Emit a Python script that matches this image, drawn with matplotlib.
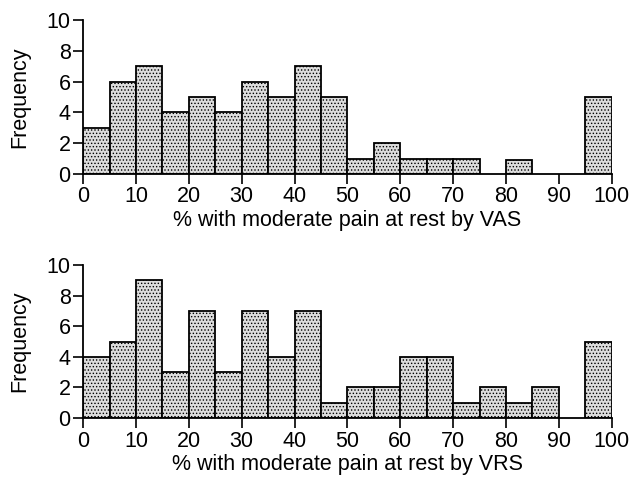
import matplotlib
matplotlib.use("Agg")
import matplotlib.pyplot as plt
import numpy as np

plt.rcParams['font.family'] = ['Liberation Sans', 'DejaVu Sans']
plt.rcParams['hatch.color'] = '#555555'
plt.rcParams['hatch.linewidth'] = 0.6

# bins of 5 percentage points from 0 to 100
bin_edges = list(range(0, 105, 5))
vas_counts = [3, 6, 7, 4, 5, 4, 6, 5, 7, 5, 1, 2, 1, 1, 1, 0, 0.9, 0, 0, 5]
vrs_counts = [4, 5, 9, 3, 7, 3, 7, 4, 7, 1, 2, 2, 4, 4, 1, 2, 1, 2, 0, 5]
xlabels = ["% with moderate pain at rest by VAS",
           "% with moderate pain at rest by VRS"]

fig = plt.figure(figsize=(6.3, 4.78), dpi=100)
ax1 = fig.add_axes([0.132, 0.636, 0.839, 0.322])
ax2 = fig.add_axes([0.132, 0.1255, 0.839, 0.320])

for ax, counts, label in zip([ax1, ax2], [vas_counts, vrs_counts], xlabels):
    left = np.array(bin_edges[:-1])
    h = np.array(counts)
    keep = h > 0
    ax.bar(left[keep], h[keep], width=5, align='edge', facecolor='#dcdcdc',
           edgecolor='black', linewidth=1.3, hatch='.....')
    ax.set_xlim(0, 100)
    ax.set_ylim(0, 10)
    ax.set_xticks(range(0, 101, 10))
    ax.set_yticks(range(0, 11, 2))
    ax.spines['top'].set_visible(False)
    ax.spines['right'].set_visible(False)
    ax.spines['left'].set_linewidth(1.3)
    ax.spines['bottom'].set_linewidth(1.3)
    ax.tick_params(labelsize=15.5, width=1.2, length=7, pad=2)
    ax.set_xlabel(label, fontsize=15.5, labelpad=2)
    ax.set_ylabel("Frequency", fontsize=15.5, labelpad=12)

fig.savefig("out.png", dpi=100)
